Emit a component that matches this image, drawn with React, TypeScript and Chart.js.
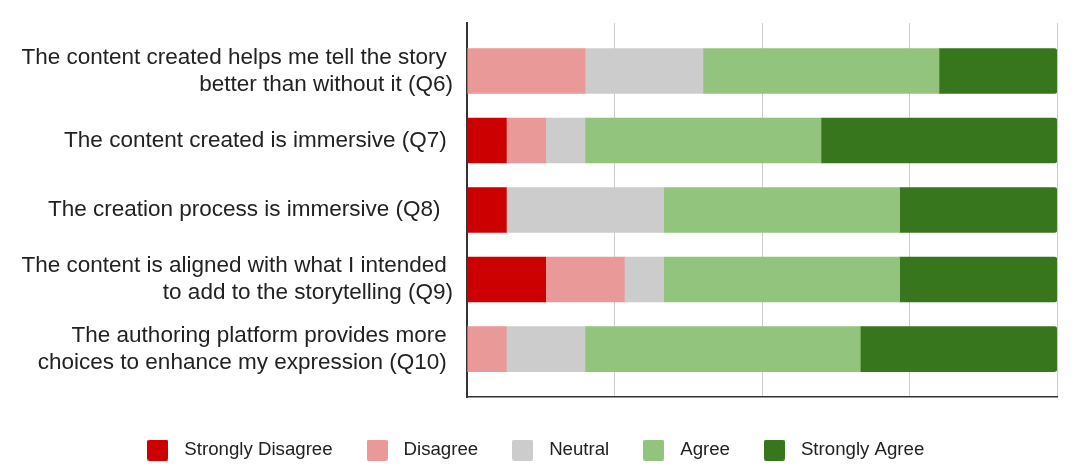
import { useEffect, useRef } from 'react';
import { Chart, registerables } from 'chart.js';

Chart.register(...registerables);

const QUESTIONS: (string | string[])[] = [
  ['The content created helps me tell the story ', 'better than without it (Q6)'],
  'The content created is immersive (Q7) ',
  'The creation process is immersive (Q8)  ',
  ['The content is aligned with what I intended ', 'to add to the storytelling (Q9)'],
  ['The authoring platform provides more ', 'choices to enhance my expression (Q10) '],
];
const RESPONSES = ['Strongly Disagree', 'Disagree', 'Neutral', 'Agree', 'Strongly Agree'];
const COLORS = ['#cc0000', '#ea9999', '#cccccc', '#93c47d', '#38761d'];
const STRONGLY_DISAGREE = [0, 1, 1, 2, 0];
const DISAGREE = [3, 1, 0, 2, 1];
const NEUTRAL = [3, 1, 4, 1, 2];
const AGREE = [6, 6, 6, 6, 7];
const STRONGLY_AGREE = [3, 6, 4, 4, 5];
const SERIES = [STRONGLY_DISAGREE, DISAGREE, NEUTRAL, AGREE, STRONGLY_AGREE];
const X_MAX = 15;
const X_STEP = 3.75;

function makeSwatch(color: string): HTMLCanvasElement {
  const c = document.createElement('canvas');
  c.width = 21;
  c.height = 21;
  const ctx = c.getContext('2d')!;
  ctx.fillStyle = color;
  ctx.beginPath();
  if ((ctx as any).roundRect) (ctx as any).roundRect(0, 0, 21, 21, 2);
  else ctx.rect(0, 0, 21, 21);
  ctx.fill();
  return c;
}

export default function App() {
  const ref = useRef<HTMLCanvasElement | null>(null);

  useEffect(() => {
    if (!ref.current) return;
    const swatches = COLORS.map(makeSwatch);
    const legendFont = 18.67;
    const chart = new Chart(ref.current, {
      type: 'bar',
      data: {
        datasets: SERIES.map((vals, si) => ({
          label: RESPONSES[si],
          data: vals.map((v, i) => ({ x: v, y: i })),
          backgroundColor: COLORS[si],
          borderWidth: 0,
          barThickness: 45,
          stack: 'all',
          borderRadius: si === SERIES.length - 1 ? 3 : 0,
          borderSkipped: 'start',
        })) as any,
      },
      options: {
        indexAxis: 'y',
        animation: false,
        responsive: false,
        layout: { padding: { top: 23, right: 23, left: 8, bottom: 5.6 } },
        scales: {
          x: {
            type: 'linear',
            stacked: true,
            min: 0,
            max: X_MAX,
            offset: false,
            ticks: { display: false, stepSize: X_STEP },
            grid: { color: '#cccccc', lineWidth: 1, drawTicks: false },
            border: { display: true, color: '#333333', width: 1.5 },
            afterFit: (scale: any) => {
              scale.height = 16.4;
              scale.paddingLeft = 0;
              scale.paddingRight = 0;
            },
          },
          y: {
            type: 'linear',
            stacked: true,
            reverse: true,
            offset: false,
            min: -0.69,
            max: 4.69,
            grid: { display: false, drawTicks: false, offset: false },
            border: { display: true, color: '#333333', width: 2 },
            afterBuildTicks: (scale: any) => {
              scale.ticks = QUESTIONS.map((_, i) => ({ value: i }));
            },
            afterFit: (scale: any) => {
              scale.width = 459;
              scale.paddingTop = 0;
              scale.paddingBottom = 0;
            },
            ticks: {
              autoSkip: false,
              padding: 14,
              color: '#222222',
              font: { family: '"Liberation Sans", Arial, sans-serif', size: 22.5, lineHeight: 1.2 },
              callback: (_v: any, idx: number) => QUESTIONS[idx],
            },
          },
        },
        plugins: {
          tooltip: { enabled: false },
          legend: {
            position: 'bottom',
            labels: {
              usePointStyle: true,
              pointStyleWidth: 34.3,
              padding: 27.3,
              color: '#222222',
              font: { family: '"Liberation Sans", Arial, sans-serif', size: legendFont },
              generateLabels: (ch: any) => {
                const items = Chart.defaults.plugins.legend.labels.generateLabels(ch);
                return items.map((it: any, i: number) => ({ ...it, pointStyle: swatches[i] }));
              },
            },
          },
        },
      } as any,
    });
    return () => chart.destroy();
  }, []);

  return (
    <div style={{ position: 'absolute', left: 0, top: 0, width: 1080, height: 475, background: '#fff' }}>
      <canvas ref={ref} width={1080} height={475} style={{ display: 'block' }} />
    </div>
  );
}
